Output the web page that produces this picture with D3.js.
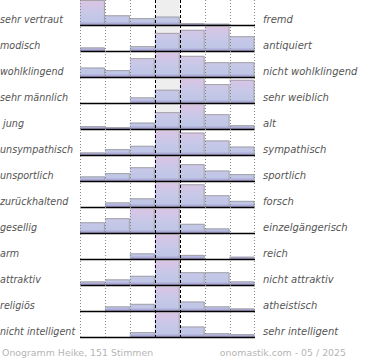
<!DOCTYPE html>
<html><head><meta charset="utf-8">
<script src="https://cdn.jsdelivr.net/npm/d3@7"></script>
<style>html,body{margin:0;padding:0;background:#fff;}svg{display:block;}</style>
</head><body>
<script>
const leftLabels = ["sehr vertraut","modisch","wohlklingend","sehr männlich"," jung","unsympathisch","unsportlich","zurückhaltend","gesellig","arm","attraktiv","religiös","nicht intelligent"];
const rightLabels = ["fremd","antiquiert","nicht wohlklingend","sehr weiblich","alt","sympathisch","sportlich","forsch","einzelgängerisch","reich","nicht attraktiv","atheistisch","sehr intelligent"];
const steps = [1,2,3,4,5,6,7];
const values = [
  [100,40,29,35,9,7,0],
  [16,0,21,73,85,100,60],
  [39,29,76,100,85,60,60],
  [0,0,24,54,100,76,93],
  [13,9,27,68,100,60,17],
  [12,25,38,100,90,59,35],
  [20,33,56,100,68,43,29],
  [0,20,36,100,91,48,26],
  [44,60,100,100,38,20,0],
  [0,0,24,100,18,0,11],
  [16,24,38,100,52,52,16],
  [0,20,30,100,39,20,12],
  [0,0,21,100,43,17,13]
];
const footerLeft = "Onogramm Heike, 151 Stimmen";
const footerRight = "onomastik.com - 05 / 2025";

const W = 370, H = 360;
const svg = d3.select("body").append("svg").attr("width", W).attr("height", H);
const defs = svg.append("defs");

const x = d3.scaleBand().domain(steps).range([80, 254.5]).paddingInner(0);
const row = d3.scaleBand().domain(d3.range(leftLabels.length)).range([-0.5, 337.5]);
const rh = row.bandwidth();

// middle column background
svg.append("rect").attr("x", x(4)).attr("y", 0).attr("width", x.bandwidth()).attr("height", row(12) + rh).attr("fill", "#eeeeee");

const rows = svg.selectAll("g.row").data(values).join("g").attr("class", "row");

rows.each(function(vals, i) {
  const g = d3.select(this);
  const top = row(i), base = row(i) + rh;
  const gid = "grad" + i;
  const lg = defs.append("linearGradient").attr("id", gid)
    .attr("gradientUnits", "userSpaceOnUse").attr("x1", 0).attr("x2", 0).attr("y1", top).attr("y2", base);
  lg.append("stop").attr("offset", "0%").attr("stop-color", "#dec3e3");
  lg.append("stop").attr("offset", "45%").attr("stop-color", "#c9c8e8");
  lg.append("stop").attr("offset", "85%").attr("stop-color", "#bfc6e6");
  lg.append("stop").attr("offset", "100%").attr("stop-color", "#9a8ec4");
  const y = d3.scaleLinear().domain([0, d3.max(vals)]).range([base, top + 0.5]);
  const bars = vals.map((v, j) => ({v, s: steps[j]})).filter(d => d.v > 0);
  g.selectAll("rect.bar").data(bars).join("rect").attr("class", "bar")
    .attr("x", d => x(d.s)).attr("y", d => y(d.v))
    .attr("width", x.bandwidth()).attr("height", d => base - y(d.v))
    .attr("fill", "url(#" + gid + ")");
  g.selectAll("path.edge").data(bars).join("path").attr("class", "edge")
    .attr("d", d => `M${x(d.s)},${y(d.v) + 0.5}H${x(d.s) + x.bandwidth() - 0.5}V${base}`)
    .attr("fill", "none").attr("stroke", "#a3a3a8").attr("stroke-width", 1);
});

// vertical grid lines
const bounds = steps.map(s => x(s)).concat([x(7) + x.bandwidth()]);
svg.selectAll("line.vg").data(bounds).join("line").attr("class", "vg")
  .attr("x1", d => Math.round(d) + 0.5).attr("x2", d => Math.round(d) + 0.5)
  .attr("y1", 0).attr("y2", row(12) + rh)
  .attr("stroke", (d, i) => (i === 3 || i === 4) ? "#000" : "#888")
  .attr("stroke-dasharray", (d, i) => (i === 3 || i === 4) ? "3,2" : "1,2")
  .attr("stroke-width", 1);

// baselines
rows.append("line")
  .attr("x1", 80).attr("x2", 255)
  .attr("y1", (d, i) => row(i) + rh).attr("y2", (d, i) => row(i) + rh)
  .attr("stroke", "#000").attr("stroke-width", 1.6);

// labels
rows.append("text").attr("x", 0).attr("y", (d, i) => row(i) + rh - 2.5)
  .attr("xml:space", "preserve").style("white-space", "pre")
  .attr("font-family", "DejaVu Sans").attr("font-style", "italic").attr("font-size", 9.6)
  .attr("fill", "#555").text((d, i) => leftLabels[i]);
rows.append("text").attr("x", 263).attr("y", (d, i) => row(i) + rh - 2.5)
  .attr("font-family", "DejaVu Sans").attr("font-style", "italic").attr("font-size", 10)
  .attr("fill", "#555").text((d, i) => rightLabels[i]);

svg.append("text").attr("x", 2).attr("y", 356).attr("font-family", "DejaVu Sans").attr("font-size", 9.4)
  .attr("fill", "#b5b5b5").text(footerLeft);
svg.append("text").attr("x", 346).attr("y", 356).attr("text-anchor", "end").attr("font-family", "DejaVu Sans").attr("font-size", 9.4)
  .attr("fill", "#b5b5b5").text(footerRight);
</script>
</body></html>
